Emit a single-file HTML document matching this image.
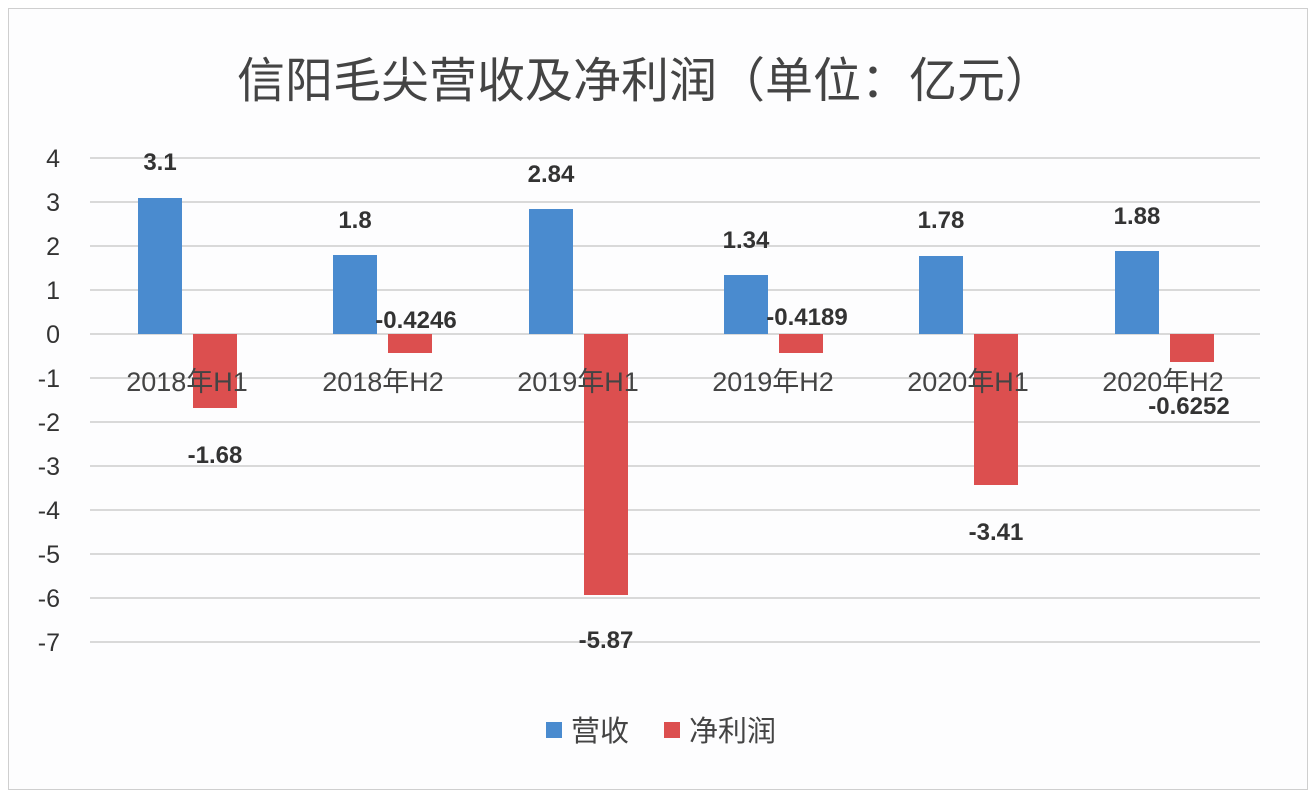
<!DOCTYPE html>
<html><head><meta charset="utf-8"><style>body{margin:0;background:#fff}svg{display:block}</style></head><body>
<svg width="1316" height="796" xmlns="http://www.w3.org/2000/svg" font-family="Liberation Sans, Noto Sans CJK SC, sans-serif">
<rect x="0" y="0" width="1316" height="796" fill="#fff"/>
<rect x="8.5" y="8.5" width="1299" height="781" fill="#fdfdfe" stroke="#cfcfcf"/>
<text x="645" y="97" text-anchor="middle" font-size="48" fill="#444" font-family="Noto Sans CJK SC, sans-serif">信阳毛尖营收及净利润（单位：亿元）</text>
<g stroke="#d9d9d9" stroke-width="2">
<line x1="90" x2="1260" y1="158" y2="158"/><line x1="90" x2="1260" y1="202" y2="202"/>
<line x1="90" x2="1260" y1="246" y2="246"/><line x1="90" x2="1260" y1="290" y2="290"/>
<line x1="90" x2="1260" y1="334" y2="334"/><line x1="90" x2="1260" y1="378" y2="378"/>
<line x1="90" x2="1260" y1="422" y2="422"/><line x1="90" x2="1260" y1="466" y2="466"/>
<line x1="90" x2="1260" y1="510" y2="510"/><line x1="90" x2="1260" y1="554" y2="554"/>
<line x1="90" x2="1260" y1="598" y2="598"/><line x1="90" x2="1260" y1="642" y2="642"/>
</g>
<g font-size="25" fill="#333" text-anchor="end">
<text x="60" y="167">4</text><text x="60" y="211">3</text><text x="60" y="255">2</text><text x="60" y="299">1</text>
<text x="60" y="343">0</text><text x="60" y="387">-1</text><text x="60" y="431">-2</text><text x="60" y="475">-3</text>
<text x="60" y="519">-4</text><text x="60" y="563">-5</text><text x="60" y="607">-6</text><text x="60" y="651">-7</text>
</g>
<g fill="#4a8bcf">
<rect x="138" y="198" width="44" height="136"/>
<rect x="333" y="255" width="44" height="79"/>
<rect x="529" y="209" width="44" height="125"/>
<rect x="724" y="275" width="44" height="59"/>
<rect x="919" y="256" width="44" height="78"/>
<rect x="1115" y="251" width="44" height="83"/>
</g>
<g fill="#dc4f4f">
<rect x="193" y="334" width="44" height="74"/>
<rect x="388" y="334" width="44" height="19"/>
<rect x="584" y="334" width="44" height="261"/>
<rect x="779" y="334" width="44" height="19"/>
<rect x="974" y="334" width="44" height="151"/>
<rect x="1170" y="334" width="44" height="28"/>
</g>
<g font-size="27" fill="#444" text-anchor="middle">
<text x="187" y="391">2018年H1</text><text x="383" y="391">2018年H2</text>
<text x="578" y="391">2019年H1</text><text x="773" y="391">2019年H2</text>
<text x="968" y="391">2020年H1</text><text x="1163" y="391">2020年H2</text>
</g>
<g font-size="24" font-weight="bold" fill="#333" text-anchor="middle">
<text x="160" y="170">3.1</text><text x="355" y="228">1.8</text><text x="551" y="182">2.84</text>
<text x="746" y="248">1.34</text><text x="941" y="228">1.78</text><text x="1137" y="224">1.88</text>
<text x="215" y="463">-1.68</text><text x="416" y="328">-0.4246</text><text x="606" y="648">-5.87</text>
<text x="807" y="325">-0.4189</text><text x="996" y="540">-3.41</text><text x="1189" y="414">-0.6252</text>
</g>
<rect x="546" y="722" width="16" height="16" fill="#4a8bcf"/>
<text x="571" y="741" font-size="29" fill="#444" font-family="Noto Sans CJK SC, sans-serif">营收</text>
<rect x="664" y="722" width="16" height="16" fill="#dc4f4f"/>
<text x="689" y="741" font-size="29" fill="#444" font-family="Noto Sans CJK SC, sans-serif">净利润</text>
</svg>
</body></html>
